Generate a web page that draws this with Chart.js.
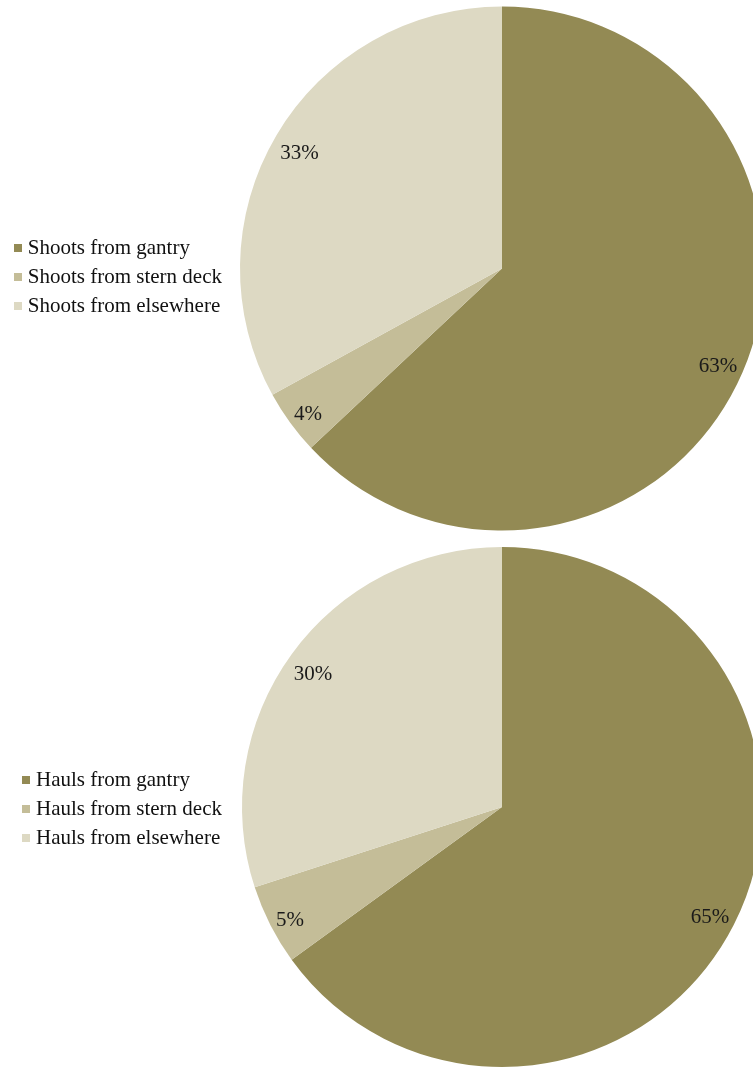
<!DOCTYPE html>
<html>
<head>
<meta charset="utf-8">
<title>Shoots and hauls</title>
<script src="https://cdn.jsdelivr.net/npm/chart.js@4.4.1/dist/chart.umd.min.js"></script>
<style>
  html, body { margin: 0; padding: 0; background: #fff; overflow: hidden; }
  body { width: 753px; height: 1068px; position: relative; font-family: "Liberation Serif", "Times New Roman", serif; }
  .panel { position: absolute; left: 0; width: 780px; }
  .legend { position: absolute; right: 558px; font-size: 21px; line-height: 29px; color: #111; white-space: nowrap; }
  .legend div { display: flex; align-items: center; }
  .legend span.box { width: 8px; height: 8px; margin-right: 6px; flex: none; }
</style>
</head>
<body>
<div class="panel" id="p1" style="top:0;height:537px;">
  <div class="legend" id="legend1" style="top:233px;"></div>
  <canvas id="shootsChart" width="780" height="537"></canvas>
</div>
<div class="panel" id="p2" style="top:537px;height:531px;">
  <div class="legend" id="legend2" style="top:228px;"></div>
  <canvas id="haulsChart" width="780" height="531"></canvas>
</div>
<script>
// percentages of operations by location on the vessel
const shootLabels = ["Shoots from gantry", "Shoots from stern deck", "Shoots from elsewhere"];
const shootValues = [63, 4, 33];
const haulLabels = ["Hauls from gantry", "Hauls from stern deck", "Hauls from elsewhere"];
const haulValues = [65, 5, 30];
const sliceColors = ["#938a54", "#c4bd98", "#ddd9c3"];

// writes "NN%" inside each slice, tucked against the rim (inside end)
const pctLabels = {
  id: "pctLabels",
  afterDatasetsDraw(chart) {
    const ctx = chart.ctx;
    const ds = chart.data.datasets[0];
    const meta = chart.getDatasetMeta(0);
    const gap = 5, halfH = 10, drop = 5;
    ctx.save();
    ctx.font = '21px "Liberation Serif", serif';
    ctx.fillStyle = "#1a1a1a";
    ctx.textAlign = "center";
    ctx.textBaseline = "middle";
    meta.data.forEach((arc, i) => {
      const txt = ds.data[i] + "%";
      const halfW = ctx.measureText(txt).width / 2;
      const mid = (arc.startAngle + arc.endAngle) / 2;
      const c = Math.cos(mid), s = Math.sin(mid);
      const r = arc.outerRadius - gap - (Math.abs(c) * halfW + Math.abs(s) * halfH);
      ctx.fillText(txt, arc.x + c * r, arc.y + s * r + drop);
    });
    ctx.restore();
  }
};

function buildLegend(id, labels) {
  const el = document.getElementById(id);
  labels.forEach((txt, i) => {
    const row = document.createElement("div");
    const box = document.createElement("span");
    box.className = "box";
    box.style.background = sliceColors[i];
    row.appendChild(box);
    row.appendChild(document.createTextNode(txt));
    el.appendChild(row);
  });
}

function loadPie(id, labels, values, padding) {
  const ctx = document.getElementById(id).getContext("2d");
  return new Chart(ctx, {
    type: "pie",
    data: {
      labels: labels,
      datasets: [{
        data: values,
        backgroundColor: sliceColors,
        borderWidth: 0
      }]
    },
    options: {
      responsive: false,
      animation: false,
      events: [],
      layout: { padding: padding },
      plugins: {
        legend: { display: false },
        tooltip: { enabled: false }
      }
    },
    plugins: [pctLabels]
  });
}

buildLegend("legend1", shootLabels);
buildLegend("legend2", haulLabels);
loadPie("shootsChart", shootLabels, shootValues, { left: 240, right: 16, top: 6, bottom: 6 });
loadPie("haulsChart", haulLabels, haulValues, { left: 242, right: 18, top: 10, bottom: 1 });
</script>
</body>
</html>
